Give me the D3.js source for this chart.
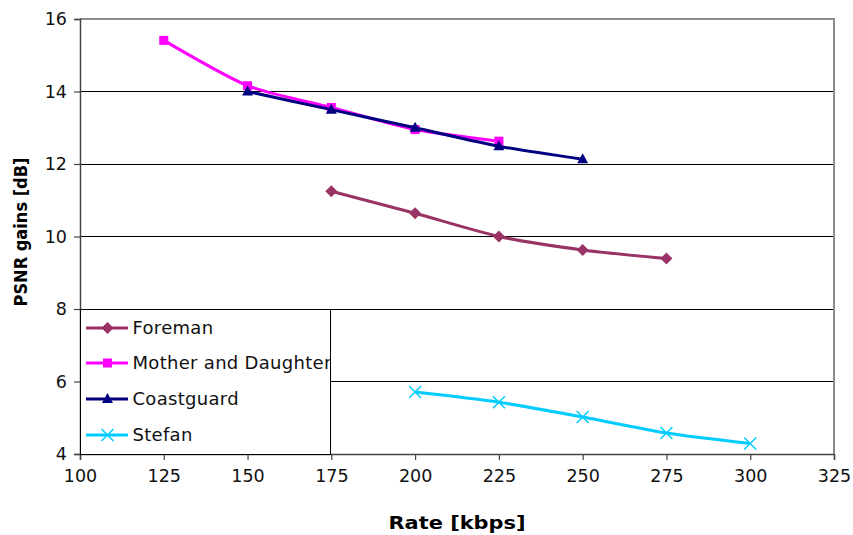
<!DOCTYPE html>
<html>
<head>
<meta charset="utf-8">
<script src="https://cdn.jsdelivr.net/npm/d3@7"></script>
<style>
  html, body { margin: 0; padding: 0; background: #fff; }
  svg { display: block; font-family: "DejaVu Sans", Verdana, sans-serif; }
</style>
</head>
<body>
<svg id="chart" width="853" height="535"></svg>
<script>
// Rate (kbps) vs PSNR gain (dB) per test sequence
const foremanRate = [175, 200, 225, 250, 275];
const foremanGain = [11.25, 10.64, 10.0, 9.63, 9.39];

const motherRate = [125, 150, 175, 200, 225];
const motherGain = [15.41, 14.16, 13.56, 12.95, 12.63];

const coastRate = [150, 175, 200, 225, 250];
const coastGain = [14.0, 13.5, 13.0, 12.49, 12.13];

const stefanRate = [200, 225, 250, 275, 300];
const stefanGain = [5.71, 5.43, 5.02, 4.58, 4.29];

const xTicks = [100, 125, 150, 175, 200, 225, 250, 275, 300, 325];
const yTicks = [4, 6, 8, 10, 12, 14, 16];

const series = [
  { name: "Foreman", rate: foremanRate, gain: foremanGain, color: "#993366", marker: "diamond" },
  { name: "Mother and Daughter", rate: motherRate, gain: motherGain, color: "#ff00ff", marker: "square" },
  { name: "Coastguard", rate: coastRate, gain: coastGain, color: "#000080", marker: "triangle" },
  { name: "Stefan", rate: stefanRate, gain: stefanGain, color: "#00ccff", marker: "cross" }
];

const svg = d3.select("#chart");
const plotLeft = 80, plotRight = 834, plotTop = 19, plotBottom = 454;

const x = d3.scaleLinear().domain([100, 325]).range([plotLeft, plotRight]);
const y = d3.scaleLinear().domain([4, 16]).range([plotBottom, plotTop]);

// horizontal gridlines
svg.append("g").selectAll("line")
  .data(yTicks.filter(v => v > 4 && v < 16))
  .join("line")
  .attr("x1", plotLeft).attr("x2", plotRight)
  .attr("y1", d => y(d)).attr("y2", d => y(d))
  .attr("stroke", "#000").attr("stroke-width", 1)
  .attr("shape-rendering", "crispEdges");

// plot frame (top and right)
svg.append("path")
  .attr("d", `M${plotLeft},${y(16)}H${plotRight}V${plotBottom}`)
  .attr("fill", "none").attr("stroke", "#8c8c8c").attr("stroke-width", 1.5)
  .attr("shape-rendering", "crispEdges");

// axes
const xAxis = d3.axisBottom(x).tickValues(xTicks).tickSize(6).tickPadding(10);
const yAxis = d3.axisLeft(y).tickValues(yTicks).tickSize(6).tickPadding(7);

const gx = svg.append("g").attr("transform", `translate(0,${plotBottom})`).call(xAxis);
const gy = svg.append("g").attr("transform", `translate(${plotLeft},0)`).call(yAxis);
[gx, gy].forEach(g => {
  g.select(".domain").attr("stroke", "#444").attr("stroke-width", 1.5);
  g.selectAll(".tick line").attr("stroke", "#444").attr("stroke-width", 1.2);
  g.selectAll(".tick text").attr("fill", "#111")
    .style("font-family", "'DejaVu Sans', Verdana, sans-serif")
    .style("font-size", "17.5px");
});

// axis titles
svg.append("text")
  .attr("x", 457).attr("y", 529)
  .attr("text-anchor", "middle")
  .attr("font-weight", "bold").attr("font-size", 18)
  .attr("textLength", 137).attr("lengthAdjust", "spacingAndGlyphs")
  .text("Rate [kbps]");

svg.append("text")
  .attr("transform", "translate(27,232) rotate(-90)")
  .attr("text-anchor", "middle")
  .attr("font-weight", "bold").attr("font-size", 17)
  .attr("textLength", 149).attr("lengthAdjust", "spacingAndGlyphs")
  .text("PSNR gains [dB]");

// marker drawing
function drawMarker(g, type, color, cx, cy) {
  if (type === "diamond") {
    g.append("path")
      .attr("d", `M${cx},${cy - 6}L${cx + 6},${cy}L${cx},${cy + 6}L${cx - 6},${cy}Z`)
      .attr("fill", color);
  } else if (type === "square") {
    g.append("rect")
      .attr("x", cx - 4.5).attr("y", cy - 4.5).attr("width", 9).attr("height", 9)
      .attr("fill", color);
  } else if (type === "triangle") {
    g.append("path")
      .attr("d", `M${cx},${cy - 6}L${cx + 5.5},${cy + 4}L${cx - 5.5},${cy + 4}Z`)
      .attr("fill", color);
  } else {
    g.append("path")
      .attr("d", `M${cx - 6},${cy - 6}L${cx + 6},${cy + 6}M${cx + 6},${cy - 6}L${cx - 6},${cy + 6}`)
      .attr("stroke", color).attr("stroke-width", 1.5).attr("fill", "none");
  }
}

const line = d3.line()
  .x(d => x(d[0])).y(d => y(d[1]))
  .curve(d3.curveCardinal.tension(0.3));

series.forEach(s => {
  const pts = s.rate.map((r, i) => [r, s.gain[i]]);
  const g = svg.append("g");
  g.append("path")
    .attr("d", line(pts))
    .attr("fill", "none").attr("stroke", s.color).attr("stroke-width", 3)
    .attr("stroke-linejoin", "round");
  pts.forEach(p => drawMarker(g, s.marker, s.color, x(p[0]), y(p[1])));
});

// legend box; entry labels are clipped at its right edge
const legendRight = 330;
svg.append("clipPath").attr("id", "legend-clip")
  .append("rect")
  .attr("x", plotLeft).attr("y", y(8)).attr("width", legendRight - plotLeft).attr("height", plotBottom - y(8));

const lg = svg.append("g");
lg.append("rect")
  .attr("x", plotLeft).attr("y", y(8)).attr("width", legendRight - plotLeft).attr("height", plotBottom - y(8))
  .attr("fill", "#fff");
const legendY = [328, 363, 399, 435];
const items = lg.append("g").attr("clip-path", "url(#legend-clip)");
series.forEach((s, i) => {
  const ly = legendY[i];
  items.append("line")
    .attr("x1", 86).attr("x2", 128).attr("y1", ly).attr("y2", ly)
    .attr("stroke", s.color).attr("stroke-width", 3);
  drawMarker(items, s.marker, s.color, 107.5, ly);
  items.append("text")
    .attr("x", 132.5).attr("y", ly).attr("dy", "0.36em")
    .attr("font-size", 18).attr("letter-spacing", "0.3px").attr("fill", "#111")
    .text(s.name);
});
lg.append("rect")
  .attr("x", plotLeft).attr("y", y(8)).attr("width", legendRight - plotLeft).attr("height", plotBottom - y(8))
  .attr("fill", "none").attr("stroke", "#000").attr("stroke-width", 1)
  .attr("shape-rendering", "crispEdges");
</script>
</body>
</html>
